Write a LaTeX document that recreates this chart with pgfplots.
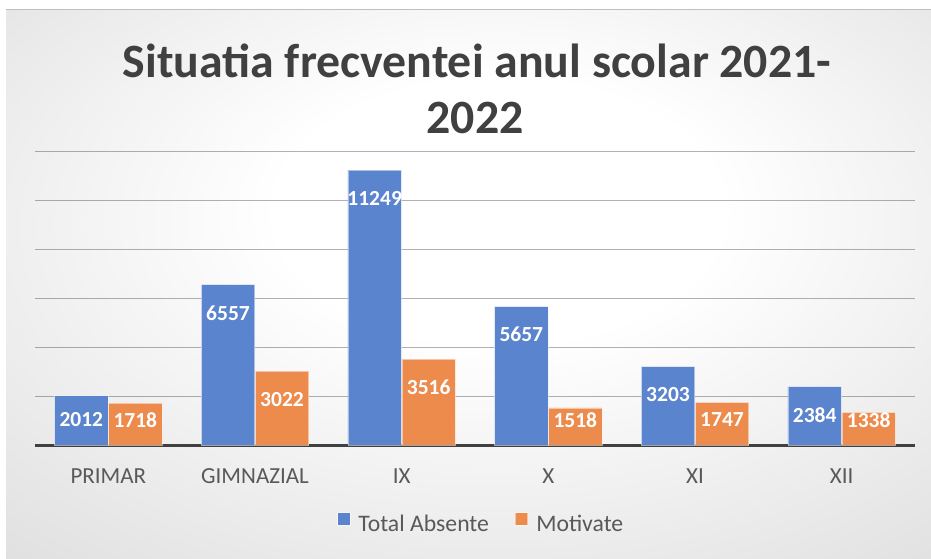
\documentclass[border=0pt]{standalone}
\usepackage{pgfplots}
\pgfplotsset{compat=1.18}
\usepackage{fontspec}
\setmainfont{Carlito}
\definecolor{barblue}{RGB}{91,132,206}
\definecolor{barorange}{RGB}{237,139,77}
\definecolor{titlegray}{RGB}{64,64,64}
\definecolor{labelgray}{RGB}{89,89,89}
\definecolor{axisdark}{RGB}{64,64,64}
\pgfdeclareradialshading{bgshade}{\pgfpoint{2bp}{8bp}}{color(0bp)=(white); color(12bp)=(white); color(72bp)=(black!27)}
\begin{document}
\begin{tikzpicture}
\path[use as bounding box] (0pt,0pt) rectangle (931pt,558pt);
\fill[white] (0pt,0pt) rectangle (931pt,558pt);
\shade[shading=bgshade] (6pt,0pt) rectangle (931pt,548pt);
\draw[black!25, line width=1pt] (6pt,548pt) -- (931pt,548pt);
\node[anchor=base, font=\bfseries\fontsize{47.8}{56}\selectfont, text=titlegray, inner sep=0pt] at (477pt,480pt) {Situatia frecventei anul scolar 2021-};
\node[anchor=base, font=\bfseries\fontsize{47.8}{56}\selectfont, text=titlegray, inner sep=0pt] at (475pt,424pt) {2022};
\begin{axis}[
  at={(35pt,113pt)}, anchor=south west,
  scale only axis, width=880pt, height=293.3pt,
  ymin=0, ymax=12000, xmin=-0.5, xmax=5.5,
  ybar, bar width=53.5pt,
  axis line style={draw=none},
  scaled y ticks=false,
  xtick={0,...,5}, xticklabels={PRIMAR,GIMNAZIAL,IX,X,XI,XII},
  major tick length=0pt,
  xticklabel style={font=\fontsize{23}{27}\selectfont, text=labelgray, yshift=-20pt},
  ytick={2000,4000,...,12000}, yticklabels={},
  ymajorgrids,
  grid style={black, opacity=0.3, line width=1pt},
  extra y ticks={0}, extra y tick labels={},
  extra y tick style={grid style={axisdark, opacity=1, line width=3pt}},
  nodes near coords={\pgfmathprintnumber[assume math mode=true, 1000 sep={}]{\pgfplotspointmeta}},
  nodes near coords align={center},
  visualization depends on={rawy \as \rawy},
  every node near coord/.append style={font=\bfseries\fontsize{21.5}{25}\selectfont, text=white, yshift={-min(28,\rawy*0.024442-25)}},
  legend style={at={(0.507,-0.269)}, anchor=center, draw=none, fill=none, legend columns=2,
    font=\fontsize{23.7}{28}\selectfont, text=labelgray,
    /tikz/every odd column/.append style={column sep=6pt},
    /tikz/every even column/.append style={column sep=24pt}},
  legend image code/.code={\fill[#1] (0pt,-1pt) rectangle (12.5pt,11.5pt);},
]
\addplot[fill=barblue, draw=white, draw opacity=0.5, line width=0.8pt, bar shift=-27pt]
  coordinates {(0,2012) (1,6557) (2,11249) (3,5657) (4,3203) (5,2384)};
\addplot[fill=barorange, draw=white, draw opacity=0.5, line width=0.8pt, bar shift=27pt]
  coordinates {(0,1718) (1,3022) (2,3516) (3,1518) (4,1747) (5,1338)};
\legend{Total Absente, Motivate}
\end{axis}
\end{tikzpicture}
\end{document}
